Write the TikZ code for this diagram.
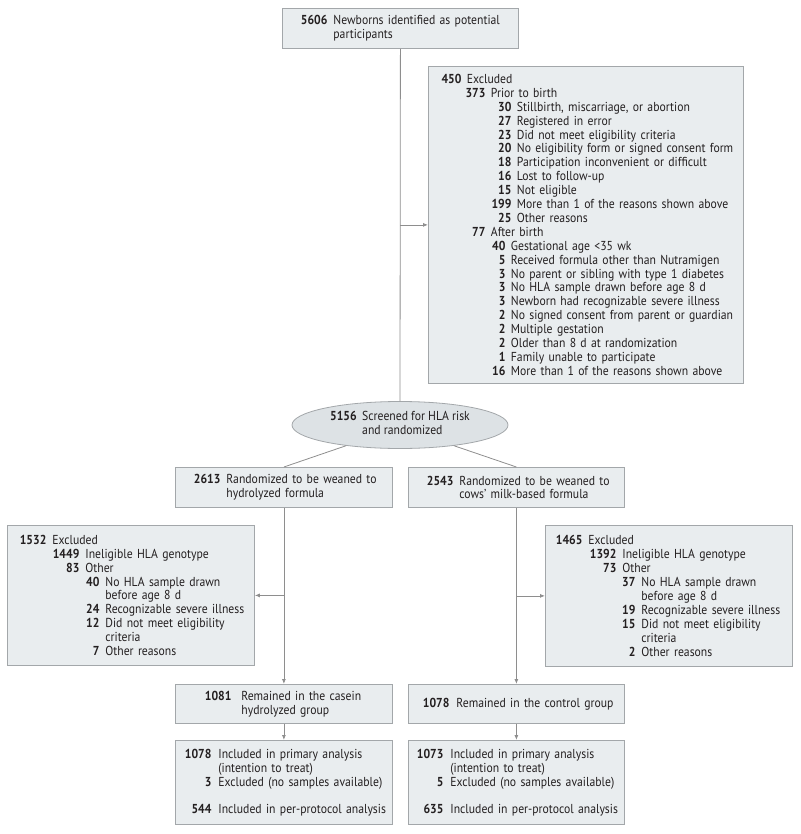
\documentclass[tikz,border=0pt]{standalone}
\usepackage{fontspec}
\setmainfont{PT Sans}[FakeStretch=0.9]
\usetikzlibrary{shapes.geometric, arrows.meta}
\definecolor{boxfill}{HTML}{E9EDEF}
\definecolor{boxline}{HTML}{A3A7AA}
\definecolor{ovalfill}{HTML}{DDE2E5}
\definecolor{linegray}{HTML}{8E8E8E}
\definecolor{inkblack}{HTML}{231F20}
\tikzstyle{arrow} = [line width=0.8pt, draw=linegray, -{Latex[length=5pt,width=4pt]}]
\tikzstyle{link} = [line width=0.8pt, draw=linegray]
\tikzset{flowbox/.style={rectangle, draw=boxline, fill=boxfill, line width=0.8pt, anchor=north west, inner xsep=0pt, inner ysep=2pt, align=left, text=inkblack, font=\fontsize{13}{13.9}\selectfont},oval/.style={ellipse, draw=boxline, fill=ovalfill, line width=0.8pt, inner sep=0pt, text=inkblack, font=\fontsize{13}{13.9}\selectfont}}
% one line of a box: right edge of the count, count, text
\newcommand{\entry}[4][5.5pt]{\hspace*{#2}\llap{\textbf{#3}}\hspace{#1}#4}

\begin{document}
\begin{tikzpicture}[x=1pt,y=-1pt]
    \useasboundingbox (0,0) rectangle (800,834);

    \node [flowbox, text width=236pt, minimum height=40pt] (newborns) at (282,8)
        {\entry[6pt]{45pt}{5606}{Newborns identified as potential}\\
         \entry[6pt]{45pt}{}{participants}};

    \node [flowbox, text width=315pt, minimum height=317pt] (excluded) at (428,66)
        {\entry{33pt}{450}{Excluded}\\
         \entry{57pt}{373}{Prior to birth}\\
         \entry{83pt}{30}{Stillbirth, miscarriage, or abortion}\\
         \entry{83pt}{27}{Registered in error}\\
         \entry{83pt}{23}{Did not meet eligibility criteria}\\
         \entry{83pt}{20}{No eligibility form or signed consent form}\\
         \entry{83pt}{18}{Participation inconvenient or difficult}\\
         \entry{83pt}{16}{Lost to follow-up}\\
         \entry{83pt}{15}{Not eligible}\\
         \entry{83pt}{199}{More than 1 of the reasons shown above}\\
         \entry{83pt}{25}{Other reasons}\\
         \entry{57pt}{77}{After birth}\\
         \entry{77pt}{40}{Gestational age <35 wk}\\
         \entry{77pt}{5}{Received formula other than Nutramigen}\\
         \entry{77pt}{3}{No parent or sibling with type 1 diabetes}\\
         \entry{77pt}{3}{No HLA sample drawn before age 8 d}\\
         \entry{77pt}{3}{Newborn had recognizable severe illness}\\
         \entry{77pt}{2}{No signed consent from parent or guardian}\\
         \entry{77pt}{2}{Multiple gestation}\\
         \entry{77pt}{2}{Older than 8 d at randomization}\\
         \entry{77pt}{1}{Family unable to participate}\\
         \entry{77pt}{16}{More than 1 of the reasons shown above}};

    \node [oval, minimum width=216pt, minimum height=47pt] (screened) at (400,425)
        {\begin{tabular}{@{}r@{\hspace{5.5pt}}l@{}}
         \textbf{5156} & Screened for HLA risk\\
                       & and randomized
         \end{tabular}};

    \node [flowbox, text width=217pt, minimum height=40pt] (randhydro) at (175,467)
        {\entry[6pt]{45pt}{2613}{Randomized to be weaned to}\\
         \entry[6pt]{45pt}{}{hydrolyzed formula}};
    \node [flowbox, text width=216pt, minimum height=40pt] (randmilk) at (408,467)
        {\entry[6pt]{45pt}{2543}{Randomized to be weaned to}\\
         \entry[6pt]{45pt}{}{cows' milk-based formula}};

    \node [flowbox, text width=247pt, minimum height=140pt] (exclhydro) at (7,525)
        {\entry[6pt]{39pt}{1532}{Excluded}\\
         \entry[6pt]{72pt}{1449}{Ineligible HLA genotype}\\
         \entry[6pt]{72pt}{83}{Other}\\
         \entry[6pt]{92pt}{40}{No HLA sample drawn}\\
         \entry[6pt]{92pt}{}{before age 8 d}\\
         \entry[6pt]{92pt}{24}{Recognizable severe illness}\\
         \entry[6pt]{92pt}{12}{Did not meet eligibility}\\
         \entry[6pt]{92pt}{}{criteria}\\
         \entry[6pt]{92pt}{7}{Other reasons}};
    \node [flowbox, text width=247pt, minimum height=141pt] (exclmilk) at (545,525)
        {\entry[6pt]{37pt}{1465}{Excluded}\\
         \entry[6pt]{71pt}{1392}{Ineligible HLA genotype}\\
         \entry[6pt]{71pt}{73}{Other}\\
         \entry[6pt]{90pt}{37}{No HLA sample drawn}\\
         \entry[6pt]{90pt}{}{before age 8 d}\\
         \entry[6pt]{90pt}{19}{Recognizable severe illness}\\
         \entry[6pt]{90pt}{15}{Did not meet eligibility}\\
         \entry[6pt]{90pt}{}{criteria}\\
         \entry[6pt]{90pt}{2}{Other reasons}};

    \node [flowbox, text width=217pt, minimum height=39pt] (remhydro) at (175,684)
        {\entry[10pt]{56pt}{1081}{Remained in the casein}\\
         \entry[10pt]{56pt}{}{hydrolyzed group}};
    \node [flowbox, text width=216pt, minimum height=39pt] (remmilk) at (408,684)
        {\entry[7pt]{41pt}{1078}{Remained in the control group}};

    \node [flowbox, text width=217pt, minimum height=84pt] (inclhydro) at (175,740)
        {\entry[7pt]{36pt}{1078}{Included in primary analysis}\\
         \entry[7pt]{36pt}{}{(intention to treat)}\\
         \entry[7pt]{36pt}{3}{Excluded (no samples available)}\\[13pt]
         \entry[7pt]{36pt}{544}{Included in per-protocol analysis}};
    \node [flowbox, text width=216pt, minimum height=84pt] (inclmilk) at (408,740)
        {\entry[7pt]{35pt}{1073}{Included in primary analysis}\\
         \entry[7pt]{35pt}{}{(intention to treat)}\\
         \entry[7pt]{35pt}{5}{Excluded (no samples available)}\\[13pt]
         \entry[7pt]{35pt}{635}{Included in per-protocol analysis}};

    % connectors
    \draw [link] (newborns.south) -- (screened.north);
    \draw [arrow] (newborns.south |- excluded.west) -- (excluded.west);
    \draw [link] (screened.201) -- (randhydro.north);
    \draw [link] (screened.339) -- (randmilk.north);
    \draw [arrow] (randhydro.south) -- (remhydro.north);
    \draw [arrow] (randmilk.south) -- (remmilk.north);
    \draw [arrow] (randhydro.south |- exclhydro.east) -- (exclhydro.east);
    \draw [arrow] (randmilk.south |- exclmilk.west) -- (exclmilk.west);
    \draw [arrow] (remhydro.south) -- (inclhydro.north);
    \draw [arrow] (remmilk.south) -- (inclmilk.north);
\end{tikzpicture}
\end{document}
